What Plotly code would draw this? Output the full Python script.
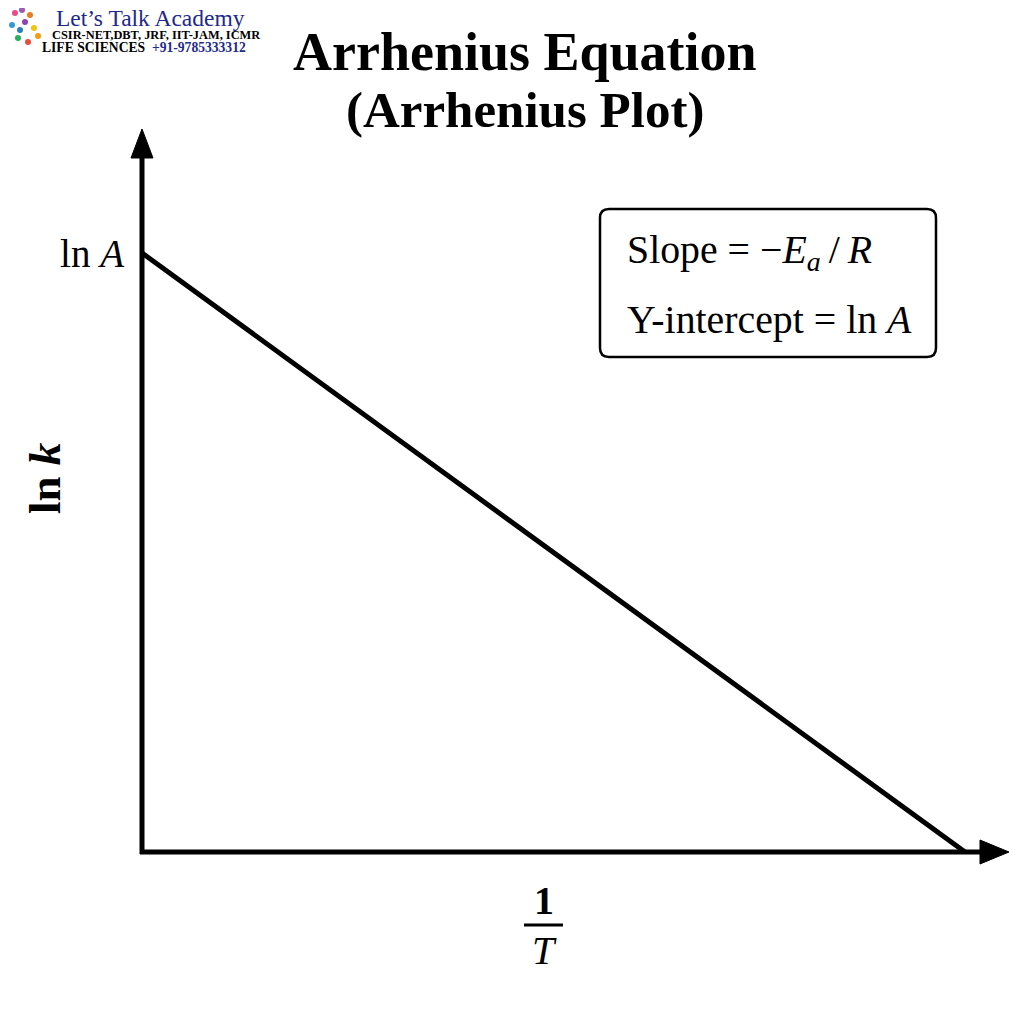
import plotly.graph_objects as go

# data: straight line of ln k against 1/T (normalised units, ln A = 1)
inv_T = [0.0, 1.0]
ln_k = [1.0, 0.0]
y_tick_vals = [1.0]
y_tick_text = ["ln <i>A</i>"]
title_lines = ["Arrhenius Equation", "(Arrhenius Plot)"]
title_sizes = [54, 51]
box_lines = ["Slope = \u2212<i>E</i><sub><i>a</i></sub>\u2009/\u2009<i>R</i>",
             "Y-intercept = ln <i>A</i>"]

W, H = 1024, 1024
OFF = 8  # page body margin
L, R, T, B = 134, 24, 122, 180
X_MAX = 1.0522
Y_MAX = 1.2053
SERIF = "Liberation Serif, Times New Roman, serif"


def px(x):
    # screen pixel -> paper x
    return (x - OFF - L) / (W - L - R)


def py(y):
    # screen pixel -> paper y
    return (H - B - (y - OFF)) / (H - T - B)


fig = go.Figure()
fig.add_trace(go.Scatter(x=inv_T, y=ln_k, mode="lines",
                         line=dict(color="black", width=5),
                         cliponaxis=False, hoverinfo="skip"))

annotations = []

# title
for i, (line, size) in enumerate(zip(title_lines, title_sizes)):
    annotations.append(dict(x=px(525), y=py(52 + 58 * i), xref="paper", yref="paper",
                            text="<b>%s</b>" % line, showarrow=False,
                            xanchor="center", yanchor="middle",
                            font=dict(family=SERIF, size=size, color="black")))

# y label
annotations.append(dict(x=px(45), y=py(478), xref="paper", yref="paper",
                        text="<b>ln <i>k</i></b>", showarrow=False, textangle=-90,
                        xanchor="center", yanchor="middle",
                        font=dict(family=SERIF, size=45, color="black")))

# x label 1/T
annotations.append(dict(x=px(544), y=py(901), xref="paper", yref="paper",
                        text="<b>1</b>", showarrow=False,
                        xanchor="center", yanchor="middle",
                        font=dict(family=SERIF, size=40, color="black")))
annotations.append(dict(x=px(544), y=py(951), xref="paper", yref="paper",
                        text="<i>T</i>", showarrow=False,
                        xanchor="center", yanchor="middle",
                        font=dict(family=SERIF, size=40, color="black")))

# text in box
for i, line in enumerate(box_lines):
    annotations.append(dict(x=px(625), y=py(252 + 68 * i), xref="paper", yref="paper",
                            text=line, showarrow=False,
                            xanchor="left", yanchor="middle",
                            font=dict(family=SERIF, size=39.8, color="black")))

# logo text
annotations.append(dict(x=px(55), y=py(18), xref="paper", yref="paper",
                        text="Let\u2019s Talk Academy", showarrow=False,
                        xanchor="left", yanchor="middle", borderpad=0,
                        font=dict(family=SERIF, size=23.5, color="#1f2a8a")))
annotations.append(dict(x=px(51), y=py(35), xref="paper", yref="paper",
                        text="<b>CSIR-NET,DBT, JRF, IIT-JAM, ICMR</b>", showarrow=False,
                        xanchor="left", yanchor="middle", borderpad=0,
                        font=dict(family=SERIF, size=12.4, color="black")))
annotations.append(dict(x=px(41), y=py(48), xref="paper", yref="paper",
                        text="<b>LIFE SCIENCES  <span style='color:#1f2a8a'>+91-9785333312</span></b>",
                        showarrow=False, xanchor="left", yanchor="middle", borderpad=0,
                        font=dict(family=SERIF, size=13.6, color="black")))

# rounded box
x0, x1, y0, y1, r = px(600), px(936), py(209), py(357), 9
rx = r / (W - L - R)
ry = r / (H - T - B)
box_path = ("M %f,%f L %f,%f Q %f,%f %f,%f L %f,%f Q %f,%f %f,%f "
            "L %f,%f Q %f,%f %f,%f L %f,%f Q %f,%f %f,%f Z") % (
    x0 + rx, y0, x1 - rx, y0, x1, y0, x1, y0 - ry,
    x1, y1 + ry, x1, y1, x1 - rx, y1,
    x0 + rx, y1, x0, y1, x0, y1 + ry,
    x0, y0 - ry, x0, y0, x0 + rx, y0)

shapes = [
    dict(type="path", path=box_path, xref="paper", yref="paper",
         line=dict(color="black", width=2.5), fillcolor="white", layer="below"),
    dict(type="line", xref="paper", yref="paper",
         x0=px(524), x1=px(563), y0=py(925), y1=py(925),
         line=dict(color="black", width=3)),
    # axes
    dict(type="line", xref="paper", yref="paper",
         x0=px(142), x1=px(142), y0=py(854), y1=py(150),
         line=dict(color="black", width=5)),
    dict(type="line", xref="paper", yref="paper",
         x0=px(140), x1=px(988), y0=py(852), y1=py(852),
         line=dict(color="black", width=5)),
    # arrow heads
    dict(type="path", xref="paper", yref="paper",
         path="M %f,%f L %f,%f L %f,%f Z" % (px(142), py(129), px(131), py(158), px(153), py(158)),
         fillcolor="black", line=dict(color="black", width=1)),
    dict(type="path", xref="paper", yref="paper",
         path="M %f,%f L %f,%f L %f,%f Z" % (px(1009), py(852), px(980), py(840), px(980), py(864)),
         fillcolor="black", line=dict(color="black", width=1)),
]

# a few coloured dots standing in for the logo
logo_x = [15, 22, 30, 12, 25, 34, 18, 28, 38, 20]
logo_y = [13, 10, 15, 25, 22, 28, 38, 42, 36, 30]
logo_c = ["#e84a8a", "#9b59b6", "#e67e22", "#3498db", "#8e44ad",
          "#f1c40f", "#27ae60", "#e74c3c", "#f39c12", "#2980b9"]
for lx, ly, lc in zip(logo_x, logo_y, logo_c):
    shapes.append(dict(type="circle", xref="paper", yref="paper",
                       x0=px(lx - 3), x1=px(lx + 3), y0=py(ly - 3), y1=py(ly + 3),
                       fillcolor=lc, line=dict(width=0)))

fig.update_layout(
    width=W, height=H,
    margin=dict(l=L, r=R, t=T, b=B),
    plot_bgcolor="white", paper_bgcolor="white",
    showlegend=False,
    xaxis=dict(range=[0, X_MAX], showgrid=False, zeroline=False,
               showticklabels=False, showline=False, ticks=""),
    yaxis=dict(range=[0, Y_MAX], showgrid=False, zeroline=False,
               showline=False, ticks="", tickvals=y_tick_vals, ticktext=y_tick_text,
               ticklabelstandoff=17,
               tickfont=dict(family=SERIF, size=39, color="black")),
    annotations=annotations,
    shapes=shapes,
)

fig.write_html("out.html")
